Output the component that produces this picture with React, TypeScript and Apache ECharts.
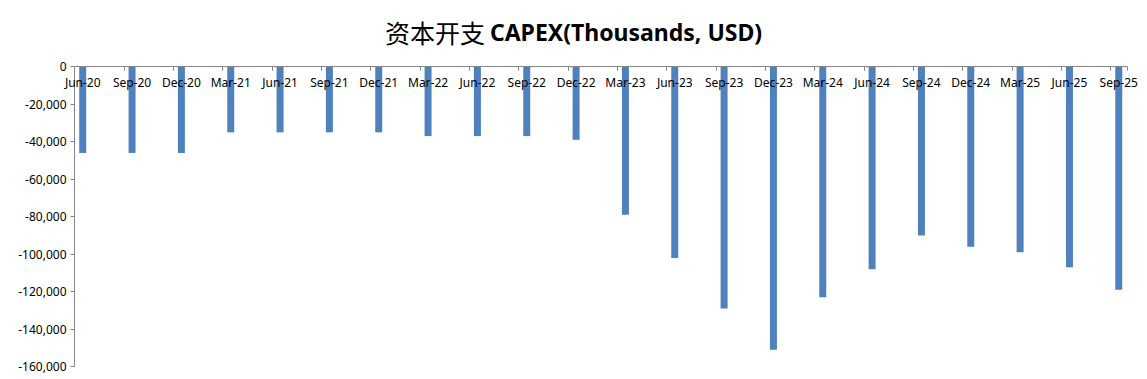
import React, { useEffect, useRef } from "react";
import * as echarts from "echarts";

const quarters = [
  "Jun-20", "Sep-20", "Dec-20", "Mar-21", "Jun-21", "Sep-21", "Dec-21",
  "Mar-22", "Jun-22", "Sep-22", "Dec-22", "Mar-23", "Jun-23", "Sep-23",
  "Dec-23", "Mar-24", "Jun-24", "Sep-24", "Dec-24", "Mar-25", "Jun-25", "Sep-25",
];

const capex = [
  -46000, -46000, -46000, -35000, -35000, -35000, -35000,
  -37000, -37000, -37000, -39000, -79000, -102000, -129000,
  -151000, -123000, -108000, -90000, -96000, -99000, -107000, -119000,
];

const yTicks = { min: -160000, max: 0, interval: 20000 };

const titleCn = "资本开支";
const titleEn = "CAPEX(Thousands, USD)";

// Excel date axis with monthly base unit: each quarter is followed by two empty month slots
const monthCats: string[] = [];
const monthVals: (number | null)[] = [];
quarters.forEach((q, i) => {
  monthCats.push(q);
  monthVals.push(capex[i]);
  if (i < quarters.length - 1) {
    monthCats.push(q + "#1");
    monthVals.push(null);
    monthCats.push(q + "#2");
    monthVals.push(null);
  }
});

export default function App() {
  const ref = useRef<HTMLDivElement>(null);
  useEffect(() => {
    document.body.style.margin = "0";
    const chart = echarts.init(ref.current!, null, { renderer: "svg" });
    chart.setOption({
      animation: false,
      backgroundColor: "#ffffff",
      title: {
        left: "center",
        top: 14,
        text: `{a|${titleCn}} {b|${titleEn}}`,
        textStyle: {
          rich: {
            a: {
              fontFamily: "Noto Sans CJK SC",
              fontSize: 25,
              fontWeight: "normal",
              color: "#000000",
            },
            b: {
              fontFamily: "Noto Sans",
              fontSize: 23,
              fontWeight: "bold",
              color: "#000000",
            },
          },
        },
      },
      grid: {
        left: 74.5,
        right: 20,
        top: 66.7,
        bottom: 12.3,
        containLabel: false,
        outerBoundsMode: "none",
      },
      xAxis: {
        type: "category",
        position: "top",
        data: monthCats,
        boundaryGap: true,
        z: 10,
        axisLine: { onZero: false, lineStyle: { color: "#868686", width: 1 } },
        axisTick: {
          show: true,
          inside: true,
          length: 4,
          interval: (idx: number) => idx % 3 === 0,
          lineStyle: { color: "#868686" },
        },
        axisLabel: {
          inside: true,
          interval: (idx: number) => idx % 3 === 0,
          formatter: (v: string) => (v.includes("#") ? "" : v),
          margin: 10,
          fontFamily: "Noto Sans",
          fontSize: 12,
          color: "#000000",
        },
        splitLine: { show: false },
      },
      yAxis: {
        type: "value",
        min: yTicks.min,
        max: yTicks.max,
        interval: yTicks.interval,
        axisLine: { show: true, lineStyle: { color: "#868686", width: 1 } },
        axisTick: { show: true, length: 4, lineStyle: { color: "#868686" } },
        axisLabel: {
          margin: 8,
          fontFamily: "Noto Sans",
          fontSize: 12,
          color: "#000000",
          formatter: (v: number) => v.toLocaleString("en-US"),
        },
        splitLine: { show: false },
      },
      series: [
        {
          type: "bar",
          data: monthVals,
          barWidth: 7,
          itemStyle: { color: "#4F81BD" },
        },
      ],
    });
    return () => chart.dispose();
  }, []);
  return <div ref={ref} style={{ width: 1147, height: 379 }} />;
}
